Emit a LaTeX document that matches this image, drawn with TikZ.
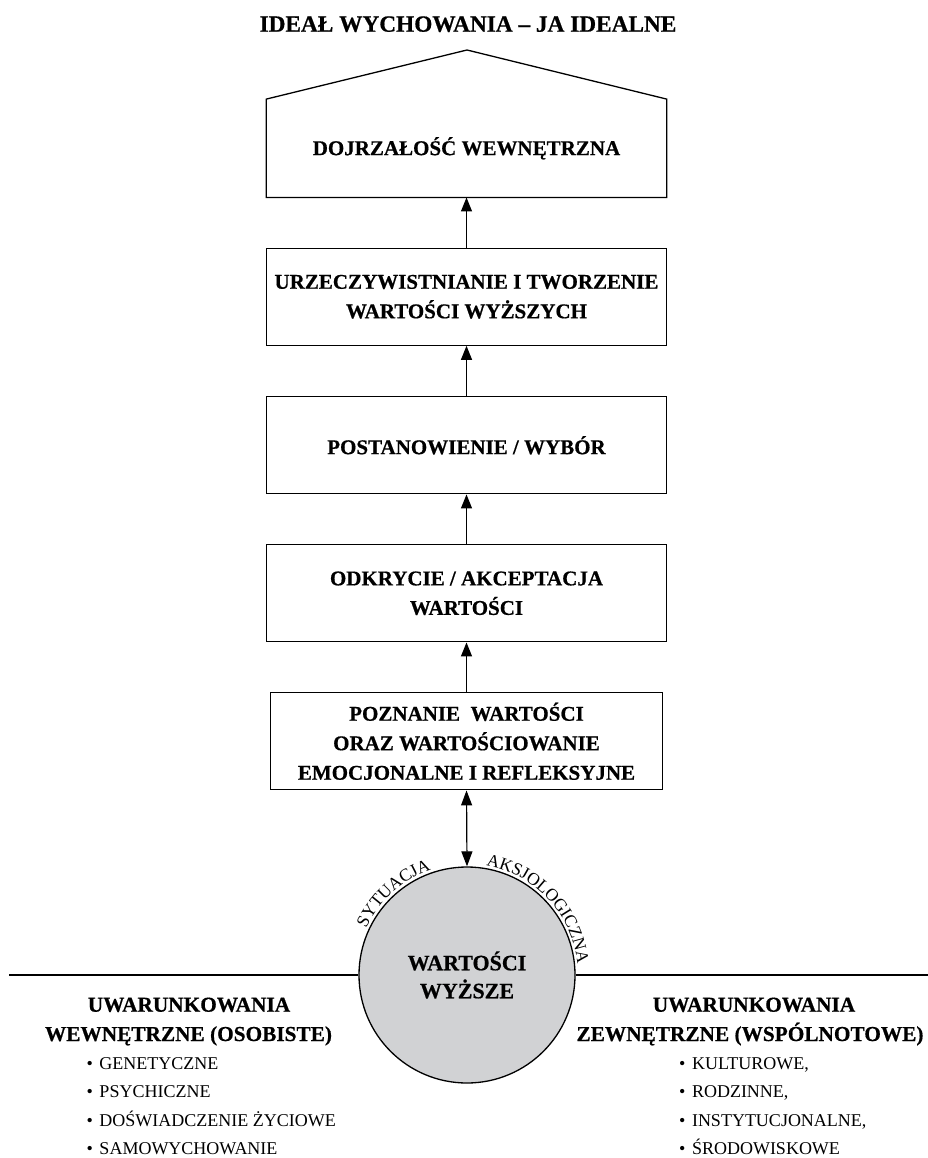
\documentclass[tikz,border=0pt]{standalone}
\usepackage{fontspec}
\setmainfont{Liberation Serif}[BoldFeatures={FakeBold=0.6}]
\usetikzlibrary{arrows.meta,decorations.text,calc}

\definecolor{corefill}{RGB}{209,210,212}
\newcommand\arcfont{\fontsize{17.5}{20}\selectfont}

\tikzset{
  stagebox/.style={draw, line width=1.3pt, minimum width=400pt, minimum height=97pt,
    inner sep=0pt, align=center, font=\bfseries\fontsize{21}{29.5}\selectfont},
  stageline/.style={line width=1.3pt, line join=miter},
  riser/.style={line width=1.2pt, -{Triangle[length=14pt,width=11pt]}},
  link/.style={line width=1.2pt, {Triangle[length=15pt,width=11pt]}-{Triangle[length=15pt,width=11pt]}},
  ground/.style={line width=2.2pt},
  heading/.style={anchor=base, inner sep=0pt, font=\bfseries\fontsize{21.3}{26}\selectfont},
  item/.style={anchor=base west, inner sep=0pt, font=\fontsize{18}{22}\selectfont},
}
\newcommand\itm[1]{\textbullet\hspace{6.5pt}#1}

\begin{document}
\begin{tikzpicture}[x=1pt,y=1pt]
  \useasboundingbox (0,0) rectangle (928,-1158);

  % title over the roof
  \node[anchor=base, inner sep=0pt, font=\bfseries\fontsize{23.3}{28}\selectfont]
    (title) at (468,-31.7) {IDEAŁ WYCHOWANIA – JA IDEALNE};

  % house-shaped top stage
  \node[minimum width=400pt, minimum height=98pt, inner sep=0pt,
        font=\bfseries\fontsize{21}{29.5}\selectfont] (house) at (466.5,-148.3) {DOJRZAŁOŚĆ WEWNĘTRZNA};
  \coordinate (apex) at (467,-50);
  \draw[stageline] (house.north west) -- (apex) -- (house.north east)
    -- (house.south east) -- (house.south west) -- cycle;

  % stages of the path
  \node[stagebox] (realize) at (466.5,-296.7) {URZECZYWISTNIANIE I TWORZENIE\\WARTOŚCI WYŻSZYCH};
  \node[stagebox] (choice) at (466.5,-445.3) {POSTANOWIENIE / WYBÓR};
  \node[stagebox] (accept) at (466.5,-593.3) {ODKRYCIE / AKCEPTACJA\\WARTOŚCI};
  \node[stagebox, minimum width=392pt] (cognize) at (466.5,-741.3)
    {POZNANIE\ \ WARTOŚCI\\ORAZ WARTOŚCIOWANIE\\EMOCJONALNE I REFLEKSYJNE};

  % central circle
  \node[circle, draw, fill=corefill, line width=1.3pt, minimum size=216pt, inner sep=0pt,
        align=center, font=\bfseries\fontsize{22}{28}\selectfont] (core) at (467,-975)
    {WARTOŚCI\\WYŻSZE};

  % arrows
  \draw[riser] (realize.north) -- (house.south);
  \draw[riser] (choice.north) -- (realize.south);
  \draw[riser] (accept.north) -- (choice.south);
  \draw[riser] (cognize.north) -- (accept.south);
  \draw[link] (cognize.south) -- (core.north);

  % dividing line
  \coordinate (edgeL) at (9,-975);
  \coordinate (edgeR) at (928,-975);
  \draw[ground] (edgeL) -- (core.west);
  \draw[ground] (core.east) -- (edgeR);

  % curved labels around the circle
  \path[decorate, decoration={text along path, text align=center, text={|\arcfont|SYTUACJA}}]
    ($(core.center)+(160:111pt)$) arc[start angle=160, end angle=104, radius=111pt];
  \path[decorate, decoration={text along path, text align=center, text={|\arcfont|AKSJOLOGICZNA}}]
    ($(core.center)+(88:111pt)$) arc[start angle=88, end angle=-2, radius=111pt];

  % inner conditions
  \node[heading] (inhead1) at (189,-1011.7) {UWARUNKOWANIA};
  \node[heading] (inhead2) at (188.5,-1041) {WEWNĘTRZNE (OSOBISTE)};
  \node[item] (in1) at (86.5,-1069.3) {\itm{GENETYCZNE}};
  \node[item] (in2) at (86.5,-1097.5) {\itm{PSYCHICZNE}};
  \node[item] (in3) at (86.5,-1126) {\itm{DOŚWIADCZENIE ŻYCIOWE}};
  \node[item] (in4) at (86.5,-1154.5) {\itm{SAMOWYCHOWANIE}};

  % outer conditions
  \node[heading] (outhead1) at (754,-1011.7) {UWARUNKOWANIA};
  \node[heading] (outhead2) at (750,-1041) {ZEWNĘTRZNE (WSPÓLNOTOWE)};
  \node[item] (out1) at (679,-1069.3) {\itm{KULTUROWE,}};
  \node[item] (out2) at (679,-1097.5) {\itm{RODZINNE,}};
  \node[item] (out3) at (679,-1126) {\itm{INSTYTUCJONALNE,}};
  \node[item] (out4) at (679,-1154.5) {\itm{ŚRODOWISKOWE}};
\end{tikzpicture}
\end{document}
